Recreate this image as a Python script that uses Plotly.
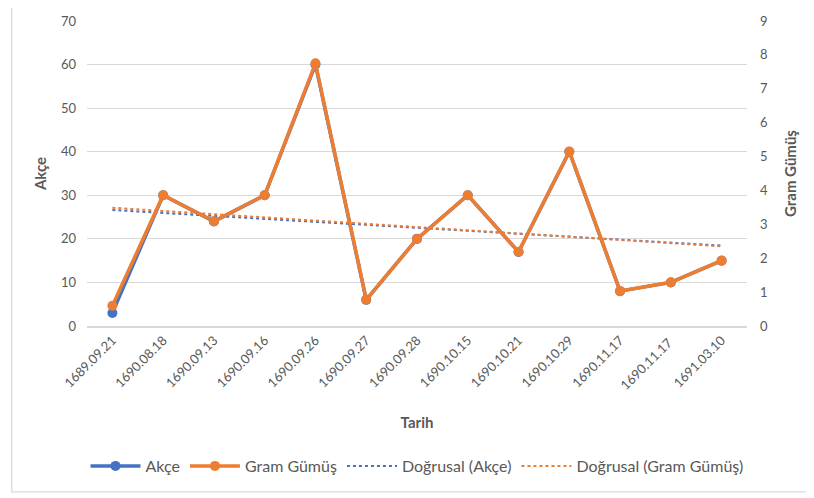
import numpy as np
import plotly.graph_objects as go

# ------------------------------- DATA -------------------------------
tarih = ["1689.09.21", "1690.08.18", "1690.09.13", "1690.09.16", "1690.09.26",
         "1690.09.27", "1690.09.28", "1690.10.15", "1690.10.21", "1690.10.29",
         "1690.11.17", "1690.11.17 ", "1691.03.10"]
akce = [3, 30, 24, 30, 60, 6, 20, 30, 17, 40, 8, 10, 15]
gram_gumus = [0.6, 3.86, 3.09, 3.86, 7.75, 0.78, 2.57, 3.86, 2.19, 5.15, 1.03, 1.29, 1.93]

BLUE = "#4472C4"
ORANGE = "#ED7D31"
GRID = "#D9D9D9"
TXT = "#595959"
FONT = "Lato, Open Sans, sans-serif"

# linear trend lines (Excel "Doğrusal")
idx = np.arange(1, len(tarih) + 1)
akce_fit = np.polyval(np.polyfit(idx, akce, 1), idx)
gram_fit = np.polyval(np.polyfit(idx, gram_gumus, 1), idx)

fig = go.Figure()

fig.add_trace(go.Scatter(
    x=tarih, y=akce, name="Akçe", mode="lines+markers",
    line=dict(color=BLUE, width=3.5), marker=dict(size=10, color=BLUE),
))
fig.add_trace(go.Scatter(
    x=tarih, y=gram_gumus, name="Gram Gümüş", mode="lines+markers", yaxis="y2",
    line=dict(color=ORANGE, width=3.5), marker=dict(size=10, color=ORANGE),
))
fig.add_trace(go.Scatter(
    x=tarih, y=akce_fit, name="Doğrusal (Akçe)", mode="lines",
    line=dict(color=BLUE, width=2, dash="dot"),
))
fig.add_trace(go.Scatter(
    x=tarih, y=gram_fit, name="Doğrusal (Gram Gümüş)", mode="lines", yaxis="y2",
    line=dict(color=ORANGE, width=2, dash="dot"),
))

# page body has an 8px margin, so the figure is 8px smaller than the window
fig.update_layout(
    width=806, height=490,
    margin=dict(l=79, r=67, t=13, b=172),
    paper_bgcolor="white", plot_bgcolor="white",
    font=dict(family=FONT, size=13, color=TXT),
    xaxis=dict(
        type="category", range=[-0.5, len(tarih) - 0.5], tickangle=-45,
        showgrid=False, showline=True,
        linecolor=GRID, linewidth=1.5, ticks="", tickfont=dict(size=13),
        automargin=False,
        title=dict(text="<b>Tarih</b>", font=dict(size=15, color=TXT), standoff=26),
    ),
    yaxis=dict(
        range=[0, 70], dtick=10, showgrid=True, gridcolor=GRID, gridwidth=1.3,
        zeroline=False, ticks="", ticklabelstandoff=10, automargin=False,
        title=dict(text="<b>Akçe</b>", font=dict(size=15, color=TXT), standoff=10),
    ),
    yaxis2=dict(
        range=[0, 9], dtick=1, overlaying="y", side="right", showgrid=False,
        zeroline=False, ticks="", ticklabelstandoff=12, automargin=False,
        title=dict(text="<b>Gram Gümüş</b>", font=dict(size=15, color=TXT), standoff=18),
    ),
    legend=dict(
        orientation="h", x=0.5, y=-0.459, xanchor="center", yanchor="middle",
        font=dict(size=16, color=TXT), itemwidth=50, traceorder="normal",
    ),
    showlegend=True,
)

# outer chart border
fig.add_shape(
    type="rect", xref="paper", yref="paper",
    x0=-0.114, x1=1.092, y0=-0.544, y1=1.059,
    line=dict(color=GRID, width=1.3), layer="below",
)

fig.write_html("out.html")
